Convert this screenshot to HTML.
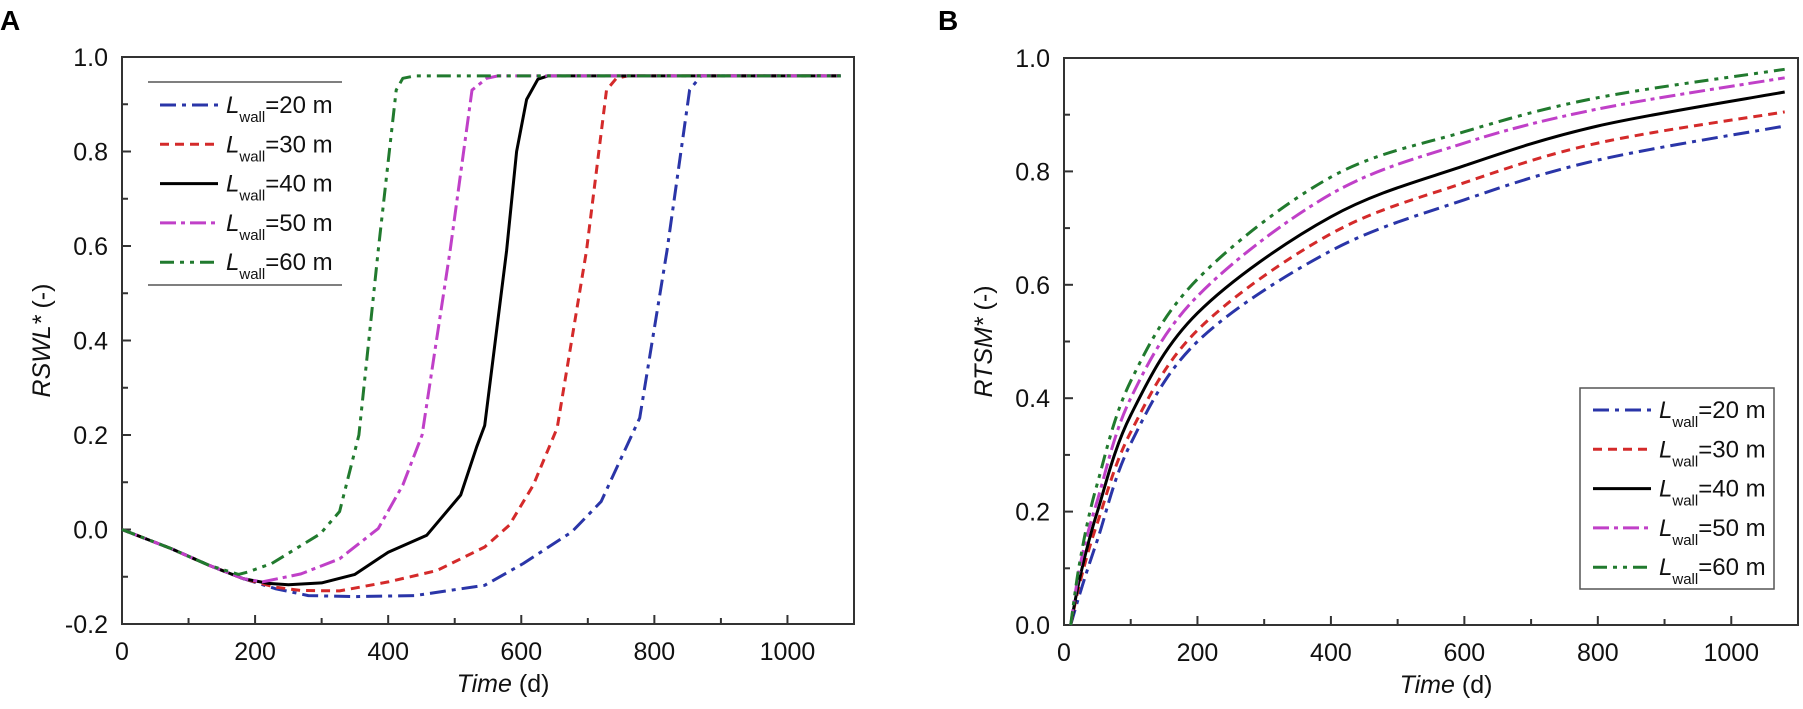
<!DOCTYPE html>
<html><head><meta charset="utf-8"><style>
html,body{margin:0;padding:0;background:#fff;}
svg{display:block;font-family:"Liberation Sans",sans-serif;}
</style></head><body>
<svg id="fig" width="1803" height="709" viewBox="0 0 1803 709">
<text x="0" y="30" font-size="28" font-weight="bold">A</text>
<text x="938" y="30" font-size="28" font-weight="bold">B</text>
<g id="pa"></g>
<g id="pb"></g>
</svg>
<script>
// Panel A data
const aT20 = [0,73,131,182,230,280,350,440,545,603,676,720,778,819,853,870,1080];
const aV20 = [0,-0.04,-0.076,-0.104,-0.125,-0.14,-0.142,-0.14,-0.118,-0.072,-0.005,0.059,0.236,0.59,0.93,0.96,0.96];
const aT30 = [0,73,131,182,230,269,327,400,473,545,582,618,654,698,728,743,760,1080];
const aV30 = [0,-0.04,-0.076,-0.104,-0.122,-0.129,-0.13,-0.111,-0.087,-0.037,0.009,0.094,0.215,0.59,0.93,0.955,0.96,0.96];
const aT40 = [0,73,131,182,220,250,300,350,400,458,509,533,545,578,593,608,625,640,1080];
const aV40 = [0,-0.04,-0.076,-0.104,-0.114,-0.117,-0.113,-0.095,-0.048,-0.012,0.073,0.175,0.22,0.59,0.8,0.91,0.953,0.96,0.96];
const aT50 = [0,73,131,182,211,269,327,385,422,451,493,526,548,565,1080];
const aV50 = [0,-0.04,-0.076,-0.104,-0.111,-0.094,-0.062,0.002,0.094,0.2,0.59,0.93,0.955,0.96,0.96];
const aT60 = [0,73,131,175,189,225,298,327,356,385,412,422,440,1080];
const aV60 = [0,-0.04,-0.076,-0.095,-0.09,-0.072,-0.009,0.038,0.2,0.59,0.93,0.955,0.96,0.96];
// Panel B data
const bT = [10,25,50,100,200,400,600,800,1080];
const bV20 = [0,0.06,0.15,0.32,0.50,0.66,0.75,0.82,0.88];
const bV30 = [0,0.08,0.18,0.34,0.52,0.69,0.78,0.85,0.905];
const bV40 = [0,0.09,0.20,0.37,0.55,0.72,0.81,0.88,0.94];
const bV50 = [0,0.11,0.22,0.40,0.58,0.76,0.85,0.91,0.965];
const bV60 = [0,0.12,0.25,0.43,0.61,0.79,0.87,0.93,0.98];
const xTicks = [0,200,400,600,800,1000];
const aYTicks = [-0.2,0.0,0.2,0.4,0.6,0.8,1.0];
const bYTicks = [0.0,0.2,0.4,0.6,0.8,1.0];
const legendLabels = ['20','30','40','50','60'];

const NS='http://www.w3.org/2000/svg';
const styles=[
 {c:'#2a35a8',d:'16 6 4 6'},
 {c:'#d42a2a',d:'9 6'},
 {c:'#000',d:''},
 {c:'#c040c8',d:'16 5 4 5'},
 {c:'#217a2e',d:'14 6 4 6 4 6'}
];
function mk(p,tag,at){const e=document.createElementNS(NS,tag);for(const k in at)e.setAttribute(k,at[k]);p.appendChild(e);return e;}
function pathD(P,smooth){
 if(!smooth) return P.map((p,j)=>(j?'L':'M')+p[0].toFixed(1)+','+p[1].toFixed(1)).join(' ');
 let d='M'+P[0][0].toFixed(1)+','+P[0][1].toFixed(1);
 for(let i=0;i<P.length-1;i++){
  const p0=P[i-1]||P[i],p1=P[i],p2=P[i+1],p3=P[i+2]||p2;
  const c1=[p1[0]+(p2[0]-p0[0])/6,p1[1]+(p2[1]-p0[1])/6];
  const c2=[p2[0]-(p3[0]-p1[0])/6,p2[1]-(p3[1]-p1[1])/6];
  d+=' C'+c1[0].toFixed(1)+','+c1[1].toFixed(1)+' '+c2[0].toFixed(1)+','+c2[1].toFixed(1)+' '+p2[0].toFixed(1)+','+p2[1].toFixed(1);
 }
 return d;
}

function panel(g,L,R,T,B,ymin,ymax,yTicks,series,title,leg,smooth){
 const xs=t=>L+(t-0)/(1100)*(R-L);
 const ys=v=>B-(v-ymin)/(ymax-ymin)*(B-T);
 const fr=mk(g,'rect',{x:L,y:T,width:R-L,height:B-T,fill:'none',stroke:'#333','stroke-width':2});
 
 
 for(let t=0;t<=1100;t+=100){
  const major=t%200===0;
  const tk=mk(g,'line',{x1:xs(t),x2:xs(t),y1:B,y2:B-(major?9:6),stroke:'#333','stroke-width':2});
  
  
 }
 xTicks.forEach(t=>{
  const tx=mk(g,'text',{x:xs(t),y:B+36,'font-size':25,'text-anchor':'middle',fill:'#111'});
  tx.textContent=t;
  
  
 });
 for(let v=ymin;v<=ymax+1e-9;v+=0.1){
  const major=Math.abs(Math.round(v*10))%2===0;
  const tk=mk(g,'line',{x1:L,x2:L+(major?9:6),y1:ys(v),y2:ys(v),stroke:'#333','stroke-width':2});
  
  
 }
 yTicks.forEach(v=>{
  const tx=mk(g,'text',{x:L-14,y:ys(v)+9,'font-size':25,'text-anchor':'end',fill:'#111'});
  tx.textContent=v.toFixed(1);
  
  
 });
 const xl=mk(g,'text',{x:(L+R)/2+15,y:B+68,'font-size':25,'text-anchor':'middle',fill:'#111'});
 xl.innerHTML='<tspan font-style="italic">Time</tspan> (d)';
 
 
 const yl=mk(g,'text',{x:0,y:0,'font-size':25,'text-anchor':'middle',fill:'#111',transform:`translate(${L-72},${(T+B)/2}) rotate(-90)`});
 yl.innerHTML='<tspan font-style="italic">'+title+'</tspan> (-)';
 
 
 series.forEach((s,i)=>{
  const P=s.t.map((t,j)=>[xs(t),ys(s.v[j])]);
  const p=mk(g,'path',{d:pathD(P,smooth),fill:'none',stroke:styles[i].c,'stroke-width':3,'stroke-dasharray':styles[i].d,'stroke-linejoin':'round'});
  
  
 });
 const lg=mk(g,'g',{});
 
 
 if(leg.box){mk(lg,'rect',{x:leg.x0,y:leg.top,width:leg.x1-leg.x0,height:leg.bot-leg.top,fill:'#fff',stroke:'#555','stroke-width':1.5});}
 else{mk(lg,'line',{x1:leg.x0,x2:leg.x1,y1:leg.top,y2:leg.top,stroke:'#555','stroke-width':1.5});
      mk(lg,'line',{x1:leg.x0,x2:leg.x1,y1:leg.bot,y2:leg.bot,stroke:'#555','stroke-width':1.5});}
 legendLabels.forEach((lab,i)=>{
  const y=leg.y0+i*39.3;
  const e=mk(lg,'g',{});
  
  
  mk(e,'line',{x1:leg.sx,x2:leg.sx+58,y1:y,y2:y,stroke:styles[i].c,'stroke-width':3,'stroke-dasharray':styles[i].d});
  const t=mk(e,'text',{x:leg.sx+66,y:y+8,'font-size':24,fill:'#111'});
  t.innerHTML='<tspan font-style="italic">L</tspan><tspan font-size="15" dy="9">wall</tspan><tspan dy="-9">='+lab+' m</tspan>';
 });
}
panel(document.getElementById('pa'),122,854,57,624,-0.2,1.0,aYTicks,
 [{t:aT20,v:aV20},{t:aT30,v:aV30},{t:aT40,v:aV40},{t:aT50,v:aV50},{t:aT60,v:aV60}],'RSWL*',
 {box:false,x0:148,x1:342,top:82,bot:285,y0:105,sx:160},false);
panel(document.getElementById('pb'),1064,1798,58,625,0,1.0,bYTicks,
 [{t:bT,v:bV20},{t:bT,v:bV30},{t:bT,v:bV40},{t:bT,v:bV50},{t:bT,v:bV60}],'RTSM*',
 {box:true,x0:1580,x1:1774,top:388,bot:589,y0:410,sx:1593},true);
</script>
</body></html>
